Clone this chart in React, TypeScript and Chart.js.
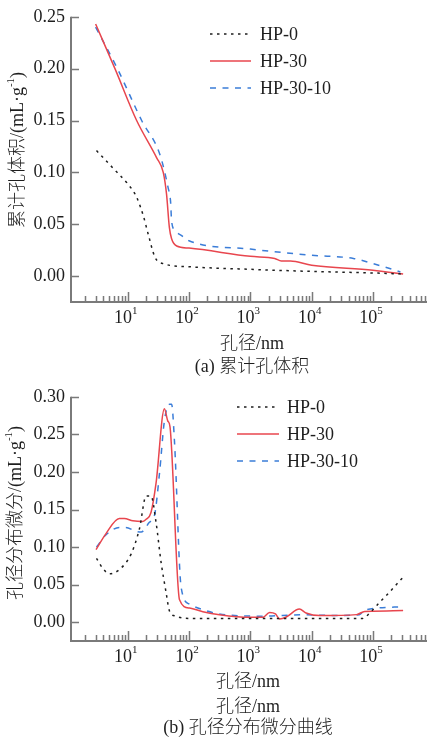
import React, { useEffect, useRef } from 'react';
import { Chart, registerables } from 'chart.js';

Chart.register(...registerables);

const FONT = '"Liberation Serif", "Noto Sans CJK SC", serif';
const TEXT = '#1e1e1e';
const AXIS = '#7a7a7a';

const SERIES_NAMES = ['HP-0', 'HP-30', 'HP-30-10'];
const COLORS = ['#1e1e1e', '#e8464e', '#3b7dd8'];
const DASHES = [[2.5, 4.5], [], [6, 6.5]];

const X_MIN = 1.19;
const X_MAX = 7.6e5;
const X_DECADES = [1, 10, 100, 1000, 10000, 100000];
const X_MINOR_FACTORS = [2, 3, 4, 5, 6, 7, 8, 9];
const X_MAJOR_TICKS = [10, 100, 1000, 10000, 100000];

// (a) cumulative pore volume
const A_Y_TICKS = [0, 0.05, 0.1, 0.15, 0.2, 0.25];
const aDiamHP0 = [3.1, 6, 10, 14, 18, 21.7, 27.9, 38, 100, 1000, 10000, 100000, 310000];
const aVolHP0 = [0.121, 0.103, 0.089, 0.076, 0.058, 0.04, 0.018, 0.012, 0.009, 0.0065, 0.0045, 0.003, 0.002];
const aDiamHP30 = [3.0, 6.2, 14, 29.7, 38, 43, 47.8, 52, 63, 100, 1000, 2500, 3200, 4500, 10000, 100000, 310000];
const aVolHP30 = [0.243, 0.2, 0.15, 0.114, 0.1, 0.079, 0.047, 0.036, 0.029, 0.027, 0.019, 0.017, 0.0145, 0.0145, 0.0105, 0.0057, 0.002];
const aDiamHP3010 = [3.0, 6.8, 16.9, 33.6, 45.7, 50, 52, 59, 76, 100, 1000, 10000, 48000, 100000, 150000, 280000];
const aVolHP3010 = [0.24, 0.2, 0.15, 0.117, 0.085, 0.072, 0.053, 0.044, 0.039, 0.034, 0.026, 0.02, 0.017, 0.012, 0.009, 0.004];

// (b) differential pore size distribution
const B_Y_TICKS = [0, 0.05, 0.1, 0.15, 0.2, 0.25, 0.3];
const bDiamHP0 = [3.1, 3.9, 5.0, 7.3, 11.4, 15.5, 20, 24, 29, 35, 42, 48, 61, 100, 1000, 10000, 68000, 83000, 120000, 176000, 310000];
const bDiffHP0 = [0.085, 0.072, 0.0645, 0.07, 0.091, 0.124, 0.168, 0.168, 0.133, 0.08, 0.041, 0.015, 0.008, 0.005, 0.005, 0.005, 0.005, 0.01, 0.024, 0.038, 0.06];
const bDiamHP30 = [3.05, 4.4, 7.3, 8.8, 12.1, 17.6, 20, 24, 29, 39.7, 45, 49, 70, 102, 168, 314, 980, 1590, 2060, 2570, 3000, 3850, 6300, 8100, 13500, 54000, 73000, 100000, 310000];
const bDiffHP30 = [0.0967, 0.1176, 0.138, 0.138, 0.135, 0.134, 0.137, 0.146, 0.185, 0.284, 0.268, 0.26, 0.03, 0.0188, 0.014, 0.01, 0.0065, 0.0065, 0.013, 0.011, 0.0044, 0.007, 0.0175, 0.0123, 0.0088, 0.0101, 0.0144, 0.0147, 0.0155];
const bDiamHP3010 = [3.1, 4.4, 7.3, 9.3, 13.7, 16.6, 22.6, 27.3, 33, 39.7, 48, 52, 57.8, 74.5, 102, 190, 314, 1590, 7200, 22000, 60000, 73000, 310000];
const bDiffHP3010 = [0.1, 0.116, 0.126, 0.126, 0.121, 0.12, 0.133, 0.142, 0.198, 0.268, 0.29, 0.29, 0.242, 0.046, 0.024, 0.0153, 0.011, 0.008, 0.01, 0.009, 0.01, 0.016, 0.0205];

type Seg = { t: string; sup?: boolean };

function drawSegs(ctx: CanvasRenderingContext2D, segs: Seg[], cx: number, cy: number, size: number) {
  const supSize = Math.round(size * 0.62);
  let total = 0;
  const widths = segs.map((s) => {
    ctx.font = `300 ${s.sup ? supSize : size}px ${FONT}`;
    const w = ctx.measureText(s.t).width;
    total += w;
    return w;
  });
  let x = cx - total / 2;
  ctx.textAlign = 'left';
  ctx.textBaseline = 'middle';
  segs.forEach((s, i) => {
    ctx.font = `300 ${s.sup ? supSize : size}px ${FONT}`;
    ctx.fillText(s.t, x, s.sup ? cy - size * 0.38 : cy);
    x += widths[i];
  });
}

const decorPlugin = {
  id: 'decor',
  afterDraw(chart: any, _args: any, o: any) {
    const ctx: CanvasRenderingContext2D = chart.ctx;
    const { left, right, top, bottom } = chart.chartArea;
    const xs = chart.scales.x;
    const ys = chart.scales.y;
    ctx.save();
    ctx.strokeStyle = AXIS;
    ctx.lineWidth = 1.5;
    ctx.setLineDash([]);
    ctx.beginPath();
    for (const v of o.yTicks) {
      const y = Math.round(ys.getPixelForValue(v)) + 0.5;
      ctx.moveTo(left, y);
      ctx.lineTo(left + 8, y);
    }
    for (const d of X_DECADES) {
      for (const f of [1, ...X_MINOR_FACTORS]) {
        const v = d * f;
        if (v < X_MIN || v > X_MAX) continue;
        const x = Math.round(xs.getPixelForValue(v)) + 0.5;
        ctx.moveTo(x, bottom);
        ctx.lineTo(x, bottom - (f === 1 ? 10 : 6));
      }
    }
    ctx.stroke();
    ctx.lineWidth = 2;
    ctx.beginPath();
    ctx.moveTo(left, top);
    ctx.lineTo(left, bottom);
    ctx.lineTo(right, bottom);
    ctx.stroke();

    ctx.fillStyle = TEXT;
    for (const v of X_MAJOR_TICKS) {
      const x = xs.getPixelForValue(v);
      const e = Math.round(Math.log10(v));
      drawSegs(ctx, [{ t: '10' }, { t: String(e), sup: true }], x - 2, bottom + o.tickDy, 18);
    }
    const cx = (left + right) / 2 + o.titleDx;
    for (const t of o.xTitles) drawSegs(ctx, [{ t: t.text }], cx, bottom + t.dy, 18);
    drawSegs(ctx, [{ t: o.caption.text }], cx, bottom + o.caption.dy, 18);

    ctx.save();
    ctx.translate(o.yTitle.x, o.yTitle.y);
    ctx.rotate(-Math.PI / 2);
    drawSegs(ctx, [{ t: o.yTitle.text }, { t: '-1', sup: true }, { t: ')' }], 0, 0, 18);
    ctx.restore();

    chart.data.datasets.forEach((ds: any, i: number) => {
      const y = o.legend.rows[i];
      ctx.strokeStyle = ds.borderColor;
      ctx.lineWidth = ds.borderWidth;
      ctx.setLineDash(ds.borderDash || []);
      ctx.beginPath();
      ctx.moveTo(o.legend.x0, y);
      ctx.lineTo(o.legend.x1, y);
      ctx.stroke();
      ctx.setLineDash([]);
      ctx.fillStyle = TEXT;
      ctx.font = `18px ${FONT}`;
      ctx.textAlign = 'left';
      ctx.textBaseline = 'middle';
      ctx.fillText(ds.label, o.legend.tx, y + 1);
    });
    ctx.restore();
  },
};

type PanelCfg = {
  top: number;
  height: number;
  padTop: number;
  xHeight: number;
  yMax: number;
  yTicks: number[];
  series: { x: number[]; y: number[] }[];
  decor: any;
};

function Panel({ cfg }: { cfg: PanelCfg }) {
  const ref = useRef<HTMLCanvasElement | null>(null);
  useEffect(() => {
    if (!ref.current) return;
    const chart = new Chart(ref.current, {
      type: 'line',
      data: {
        datasets: cfg.series.map((s, i) => ({
          label: SERIES_NAMES[i],
          data: s.x.map((x, j) => ({ x, y: s.y[j] })),
          borderColor: COLORS[i],
          borderDash: DASHES[i],
          borderWidth: 1.5,
          pointRadius: 0,
          cubicInterpolationMode: 'monotone',
          fill: false,
        })),
      },
      options: {
        responsive: false,
        animation: false,
        devicePixelRatio: 1,
        layout: { padding: { top: cfg.padTop, left: 0, right: 0, bottom: 0 } },
        plugins: {
          legend: { display: false },
          tooltip: { enabled: false },
          decor: { ...cfg.decor, yTicks: cfg.yTicks },
        } as any,
        scales: {
          x: {
            type: 'logarithmic',
            min: X_MIN,
            max: X_MAX,
            grid: { display: false, drawTicks: false },
            border: { display: false },
            ticks: { display: false },
            afterFit: (s: any) => {
              s.height = cfg.xHeight;
            },
          },
          y: {
            type: 'linear',
            min: -0.025,
            max: cfg.yMax,
            grid: { display: false, drawTicks: false },
            border: { display: false },
            ticks: {
              font: { family: FONT, size: 18 },
              color: TEXT,
              padding: 6,
              callback: (v: any) => Number(v).toFixed(2),
            },
            afterBuildTicks: (s: any) => {
              s.ticks = cfg.yTicks.map((v) => ({ value: v }));
            },
            afterFit: (s: any) => {
              s.width = 71;
            },
          },
        } as any,
      },
      plugins: [decorPlugin as any],
    });
    return () => chart.destroy();
  }, [cfg]);
  return (
    <canvas
      ref={ref}
      width={427}
      height={cfg.height}
      style={{ position: 'absolute', left: 0, top: cfg.top, width: 427, height: cfg.height, display: 'block' }}
    />
  );
}

const PANEL_A: PanelCfg = {
  top: 0,
  height: 380,
  padTop: 14,
  xHeight: 78,
  yMax: 0.25,
  yTicks: A_Y_TICKS,
  series: [
    { x: aDiamHP0, y: aVolHP0 },
    { x: aDiamHP30, y: aVolHP30 },
    { x: aDiamHP3010, y: aVolHP3010 },
  ],
  decor: {
    tickDy: 16,
    titleDx: 3,
    xTitles: [{ text: '孔径/nm', dy: 42 }],
    caption: { text: '(a) 累计孔体积', dy: 65 },
    yTitle: { text: '累计孔体积/(mL·g', x: 18, y: 150 },
    legend: { x0: 210, x1: 251, tx: 260, rows: [34, 61, 88] },
  },
};

const PANEL_B: PanelCfg = {
  top: 380,
  height: 361,
  padTop: 12,
  xHeight: 100,
  yMax: 0.3,
  yTicks: B_Y_TICKS,
  series: [
    { x: bDiamHP0, y: bDiffHP0 },
    { x: bDiamHP30, y: bDiffHP30 },
    { x: bDiamHP3010, y: bDiffHP3010 },
  ],
  decor: {
    tickDy: 16,
    titleDx: -1,
    xTitles: [
      { text: '孔径/nm', dy: 41 },
      { text: '孔径/nm', dy: 66 },
    ],
    caption: { text: '(b) 孔径分布微分曲线', dy: 87 },
    yTitle: { text: '孔径分布微分/(mL·g', x: 16, y: 133 },
    legend: { x0: 237, x1: 279, tx: 287, rows: [27, 54, 81] },
  },
};

export default function App() {
  return (
    <div style={{ position: 'absolute', left: 0, top: 0, width: 427, height: 741, background: '#fff', overflow: 'hidden' }}>
      <Panel cfg={PANEL_A} />
      <Panel cfg={PANEL_B} />
    </div>
  );
}
